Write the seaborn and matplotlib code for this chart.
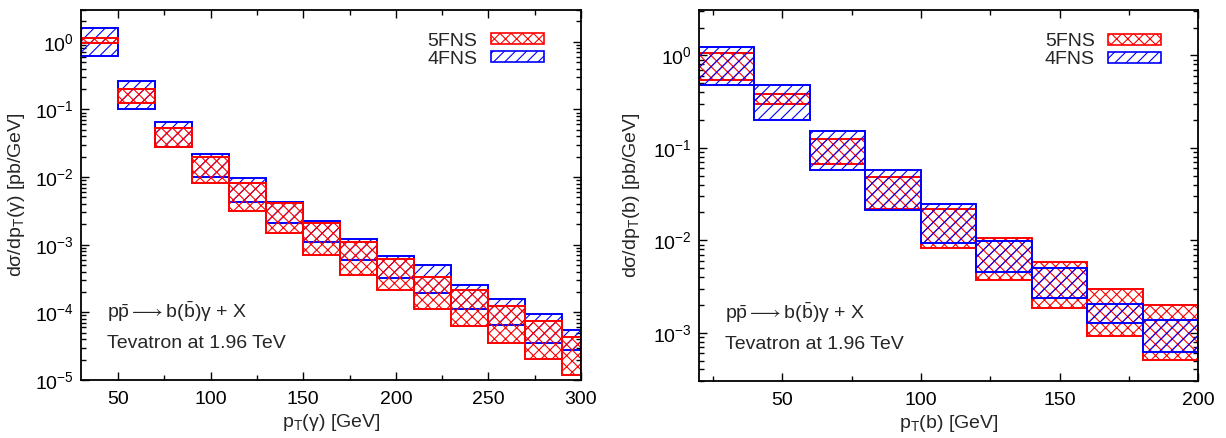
import numpy as np
import matplotlib
matplotlib.use("Agg")
import matplotlib.pyplot as plt
from matplotlib.patches import Patch
from matplotlib.ticker import LogLocator, MultipleLocator, NullFormatter
import seaborn as sns

# ---- photon pT spectrum (left) ----
pt_gamma_edges = [30, 50, 70, 90, 110, 130, 150, 170, 190, 210, 230, 250, 270, 290, 300]
gamma_5fns_hi = [1.15, 0.20, 0.054, 0.0199, 0.0083, 0.0041, 0.00206, 0.0011, 0.000625,
                 0.000334, 0.000217, 0.000123, 7.5e-5, 4.3e-5]
gamma_5fns_lo = [0.97, 0.123, 0.028, 0.0083, 0.0032, 0.00147, 0.0007, 0.000353, 0.000212,
                 0.000111, 6.3e-5, 3.5e-5, 2.04e-5, 1.17e-5]
gamma_4fns_hi = [1.58, 0.26, 0.0656, 0.022, 0.0096, 0.0043, 0.00225, 0.0012, 0.000676,
                 0.000497, 0.000251, 0.000155, 9.6e-5, 5.4e-5]
gamma_4fns_lo = [0.61, 0.10, 0.0277, 0.00986, 0.0043, 0.0021, 0.00108, 0.00059, 0.000327,
                 0.000194, 0.000114, 6.45e-5, 3.5e-5, 2.8e-5]

# ---- b-jet pT spectrum (right) ----
pt_b_edges = [20, 40, 60, 80, 100, 120, 140, 160, 180, 200]
b_5fns_hi = [1.07, 0.386, 0.125, 0.0478, 0.0218, 0.0106, 0.00575, 0.00298, 0.0020]
b_5fns_lo = [0.548, 0.299, 0.0675, 0.022, 0.00835, 0.00373, 0.00187, 0.00092, 0.000507]
b_4fns_hi = [1.23, 0.48, 0.152, 0.057, 0.0247, 0.0099, 0.0050, 0.00204, 0.00138]
b_4fns_lo = [0.475, 0.202, 0.058, 0.0214, 0.0093, 0.00459, 0.00237, 0.00127, 0.000615]

series_labels = ["5FNS", "4FNS"]
process_text = r"$\mathrm{p\bar{p}} \longrightarrow \mathrm{b(\bar{b})}$γ + X"
collider_text = "Tevatron at 1.96 TeV"

FS = 14

sns.set_theme(style="ticks")
plt.rcParams.update({
    "font.family": ["Liberation Sans", "DejaVu Sans"],
    "mathtext.fontset": "custom",
    "mathtext.rm": "Liberation Sans",
    "mathtext.it": "Liberation Sans:italic",
    "mathtext.bf": "Liberation Sans:bold",
    "font.size": FS,
    "axes.linewidth": 1.3,
    "axes.edgecolor": "black",
    "hatch.linewidth": 0.8,
    "xtick.direction": "in",
    "ytick.direction": "in",
    "xtick.top": True,
    "ytick.right": True,
    "xtick.major.size": 6,
    "ytick.major.size": 6,
    "xtick.minor.size": 3.5,
    "ytick.minor.size": 3.5,
    "xtick.color": "black",
    "ytick.color": "black",
    "xtick.labelsize": FS,
    "ytick.labelsize": FS,
})

RED = "#ff0000"
BLUE = "#0000ff"
HATCH_5 = "xxx"
HATCH_4 = "///"

fig = plt.figure(figsize=(12.26, 4.38), dpi=100)
ax_l = fig.add_axes([0.0661, 0.1324, 0.4078, 0.8459])
ax_r = fig.add_axes([0.5701, 0.1301, 0.4073, 0.8470])


def draw_bands(ax, edges, lo, hi, color, hatch):
    edges = np.asarray(edges, dtype=float)
    lo = np.asarray(lo)
    hi = np.asarray(hi)
    ax.bar(edges[:-1], hi - lo, width=np.diff(edges), bottom=lo, align="edge",
           facecolor="none", edgecolor=color, hatch=hatch, linewidth=1.4)


def style_axes(ax, xlim, ylim, xmajor, xlabel, ylabel, labelpad):
    ax.set_yscale("log")
    ax.set_xlim(*xlim)
    ax.set_ylim(*ylim)
    ax.xaxis.set_major_locator(MultipleLocator(xmajor))
    ax.xaxis.set_minor_locator(MultipleLocator(xmajor / 2))
    ax.yaxis.set_major_locator(LogLocator(base=10, numticks=20))
    ax.yaxis.set_minor_locator(LogLocator(base=10, subs=np.arange(2, 10), numticks=20))
    ax.yaxis.set_minor_formatter(NullFormatter())
    ax.tick_params(which="both", width=1.0)
    ax.tick_params(axis="x", pad=8)
    ax.tick_params(axis="y", pad=5)
    ax.set_xlabel(xlabel, fontsize=FS, labelpad=3)
    ax.set_ylabel(ylabel, fontsize=FS, labelpad=labelpad)
    for sp in ax.spines.values():
        sp.set_visible(True)
        sp.set_linewidth(1.3)
    handles = [Patch(facecolor="none", edgecolor=RED, hatch=HATCH_5, linewidth=1.2),
               Patch(facecolor="none", edgecolor=BLUE, hatch=HATCH_4, linewidth=1.2)]
    ax.legend(handles, series_labels, loc="upper right", frameon=False, markerfirst=False,
              fontsize=FS, handlelength=2.7, handleheight=0.5, labelspacing=0.05,
              handletextpad=0.7, borderaxespad=0.5, bbox_to_anchor=(0.96, 0.985))
    ax.text(0.052, 0.184, process_text, transform=ax.transAxes, fontsize=FS, va="center")
    ax.text(0.052, 0.099, collider_text, transform=ax.transAxes, fontsize=FS, va="center")


draw_bands(ax_l, pt_gamma_edges, gamma_4fns_lo, gamma_4fns_hi, BLUE, HATCH_4)
draw_bands(ax_l, pt_gamma_edges, gamma_5fns_lo, gamma_5fns_hi, RED, HATCH_5)
style_axes(ax_l, (30, 300), (1e-5, 3.0), 50,
           r"p$_\mathrm{T}$(γ) [GeV]", r"dσ/dp$_\mathrm{T}$(γ) [pb/GeV]", 6)

draw_bands(ax_r, pt_b_edges, b_5fns_lo, b_5fns_hi, RED, HATCH_5)
draw_bands(ax_r, pt_b_edges, b_4fns_lo, b_4fns_hi, BLUE, HATCH_4)
style_axes(ax_r, (20, 200), (3.0e-4, 3.1), 50,
           r"p$_\mathrm{T}$(b) [GeV]", r"dσ/dp$_\mathrm{T}$(b) [pb/GeV]", 8)

fig.savefig("out.png", dpi=100)
